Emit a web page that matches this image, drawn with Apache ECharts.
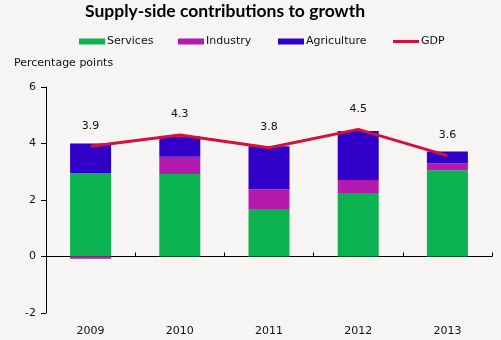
<!DOCTYPE html>
<html>
<head>
<meta charset="utf-8">
<script src="https://cdn.jsdelivr.net/npm/echarts@6/dist/echarts.min.js"></script>
<style>html,body{margin:0;padding:0;background:#f6f5f3;}#c{width:501px;height:340px;}</style>
</head>
<body>
<div id="c"></div>
<script>
var categories = ['2009', '2010', '2011', '2012', '2013'];
var services = [2.95, 2.92, 1.68, 2.25, 3.05];
var industry = [-0.08, 0.61, 0.70, 0.46, 0.25];
var agriculture = [1.05, 0.72, 1.52, 1.73, 0.42];
var gdp = [3.9, 4.3, 3.85, 4.5, 3.57];
var gdpLabels = ['3.9', '4.3', '3.8', '4.5', '3.6'];
var yTicks = {min: -2, max: 6, interval: 2};

var font = 'DejaVu Sans';
var chart = echarts.init(document.getElementById('c'), null, {renderer: 'canvas'});
function legendItem(name, left, icon, w, h) {
  return {
    data: [{name: name, icon: icon}], left: left, top: 36,
    itemWidth: w, itemHeight: h, itemGap: 0,
    textStyle: {fontFamily: font, fontSize: 11, color: '#111', padding: [0, 0, 0, -3]},
    padding: 0
  };
}
chart.setOption({
  backgroundColor: '#f6f5f3',
  animation: false,
  title: [
    {text: 'Supply-side contributions to growth', left: 220, top: -3, textAlign: 'center',
     textStyle: {fontFamily: 'Lato', fontWeight: 'bold', fontSize: 17.5, color: '#000'}},
    {text: 'Percentage points', left: 9, top: 53,
     textStyle: {fontFamily: font, fontWeight: 'normal', fontSize: 11, color: '#111'}}
  ],
  legend: [
    legendItem('Services', 79, 'rect', 26, 6),
    legendItem('Industry', 178, 'rect', 26, 6),
    legendItem('Agriculture', 278, 'rect', 26, 6),
    legendItem('GDP', 393, 'rect', 26, 3)
  ],
  grid: {left: 46, right: 9, top: 87, bottom: 27},
  xAxis: [
    {type: 'category', data: categories, position: 'bottom',
     axisLine: {show: false, onZero: false}, axisTick: {show: false},
     axisLabel: {fontFamily: font, fontSize: 11, color: '#111', margin: 13}},
    {type: 'category', data: categories, position: 'bottom',
     axisLine: {show: true, onZero: true, lineStyle: {color: '#000', width: 1}},
     axisTick: {show: true, inside: true, length: 4, lineStyle: {color: '#000'}},
     axisLabel: {show: false}}
  ],
  yAxis: {
    type: 'value', min: yTicks.min, max: yTicks.max, interval: yTicks.interval,
    axisLine: {show: true, onZero: false, lineStyle: {color: '#000', width: 1}},
    axisTick: {show: true, length: 5, lineStyle: {color: '#000'}},
    axisLabel: {fontFamily: font, fontSize: 11, color: '#111', margin: 10},
    splitLine: {show: false}
  },
  series: [
    {name: 'Services', type: 'bar', stack: 's', data: services, barWidth: 41,
     itemStyle: {color: '#0ab34f'}},
    {name: 'Industry', type: 'bar', stack: 's', data: industry, barWidth: 41,
     itemStyle: {color: '#b41aae'}},
    {name: 'Agriculture', type: 'bar', stack: 's', data: agriculture, barWidth: 41,
     itemStyle: {color: '#3000c8'}},
    {name: 'GDP', type: 'line', data: gdp, symbol: 'circle', symbolSize: 0.01, showSymbol: true, z: 5,
     lineStyle: {color: '#d4103c', width: 3}, itemStyle: {color: '#d4103c'},
     label: {show: true, position: 'top', distance: 15, fontFamily: font, fontSize: 11, color: '#111',
       formatter: function (p) { return gdpLabels[p.dataIndex]; }},
     labelLayout: {hideOverlap: false}}
  ]
});
</script>
</body>
</html>
